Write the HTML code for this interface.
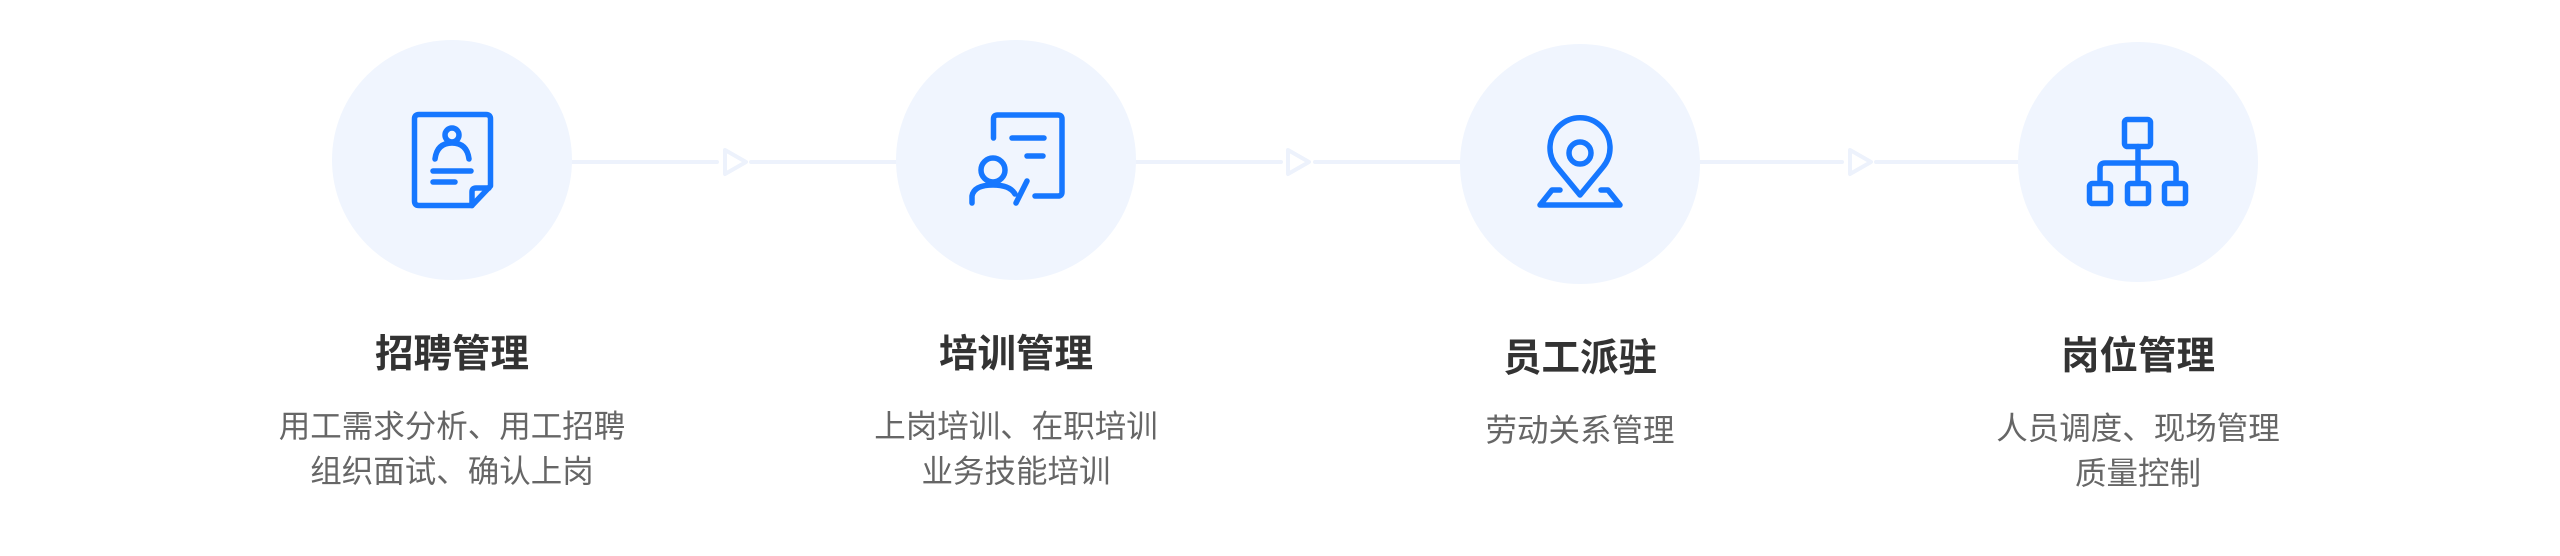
<!DOCTYPE html>
<html><head><meta charset="utf-8"><style>
html,body{margin:0;padding:0;background:#fff;}
body{width:2560px;height:556px;position:relative;overflow:hidden;font-family:"Liberation Sans","Noto Sans CJK SC",sans-serif;}
.t{position:absolute;width:600px;text-align:center;color:#333;font-weight:bold;font-size:38.5px;line-height:44px;}
.d{position:absolute;width:600px;text-align:center;color:#666;font-size:31.5px;line-height:45px;}
</style></head><body>
<svg width="2560" height="556" style="position:absolute;left:0;top:0" fill="none" stroke-linecap="round" stroke-linejoin="round">
<g stroke="#edf2fc" stroke-width="4">
<line x1="572" y1="162" x2="717" y2="162"/><line x1="751" y1="162" x2="897" y2="162"/>
<line x1="1136" y1="162" x2="1281" y2="162"/><line x1="1315" y1="162" x2="1460" y2="162"/>
<line x1="1700" y1="162" x2="1842" y2="162"/><line x1="1876" y1="162" x2="2018" y2="162"/>
<path d="M725 150 L746 162 L725 174 Z"/>
<path d="M1288 150 L1309 162 L1288 174 Z"/>
<path d="M1850 150 L1871 162 L1850 174 Z"/>
</g>
<g fill="#f0f5fe">
<circle cx="452" cy="160" r="120"/>
<circle cx="1016" cy="160" r="120"/>
<circle cx="1580" cy="164" r="120"/>
<circle cx="2138" cy="162" r="120"/>
</g>
<g stroke="#1677ff" stroke-width="5.5">
<path d="M472 205.5 H419 Q414.5 205.5 414.5 201 V119 Q414.5 114.5 419 114.5 H486 Q490.5 114.5 490.5 119 V186 L472 205.5"/>
<path d="M472 205.5 V192 Q472 188 476 188 H489"/>
<circle cx="452" cy="135" r="7"/>
<path d="M435 159 Q437 143 452 143 Q467 143 469 159"/>
<line x1="433" y1="171" x2="471" y2="171"/>
<line x1="433" y1="182" x2="455" y2="182"/>
<path d="M993.5 138 V119 Q993.5 115 997.5 115 H1058 Q1062 115 1062 119 V192 Q1062 196 1058 196 H1035"/>
<line x1="1012" y1="138" x2="1044" y2="138"/>
<line x1="1027" y1="156" x2="1043" y2="156"/>
<circle cx="993" cy="170" r="12"/>
<path d="M972 203 V196 Q974 185 993 185 Q1010 185 1015 194"/>
<path d="M1027 181 L1016 203"/>
<path d="M1580 195 L1557 167 A30 30 0 1 1 1603 167 Z"/>
<circle cx="1580" cy="153" r="11"/>
<path d="M1560 190 H1552 L1540 205 H1620 L1608 190 H1601"/>
<rect x="2124.5" y="119.5" width="26" height="27" rx="3"/>
<path d="M2138 146.5 V181"/>
<path d="M2100 181 V168 Q2100 163 2105 163 H2171 Q2176 163 2176 168 V181"/>
<rect x="2089.5" y="183.5" width="21" height="20" rx="3"/>
<rect x="2127.5" y="183.5" width="21" height="20" rx="3"/>
<rect x="2164.5" y="183.5" width="21" height="20" rx="3"/>
</g>
</svg>
<div class="t" style="left:152px;top:333px">招聘管理</div>
<div class="d" style="left:152px;top:404px">用工需求分析、用工招聘<br>组织面试、确认上岗</div>
<div class="t" style="left:716px;top:333px">培训管理</div>
<div class="d" style="left:716px;top:404px">上岗培训、在职培训<br>业务技能培训</div>
<div class="t" style="left:1280px;top:337px">员工派驻</div>
<div class="d" style="left:1280px;top:408px">劳动关系管理</div>
<div class="t" style="left:1838px;top:335px">岗位管理</div>
<div class="d" style="left:1838px;top:406px">人员调度、现场管理<br>质量控制</div>
</body></html>
